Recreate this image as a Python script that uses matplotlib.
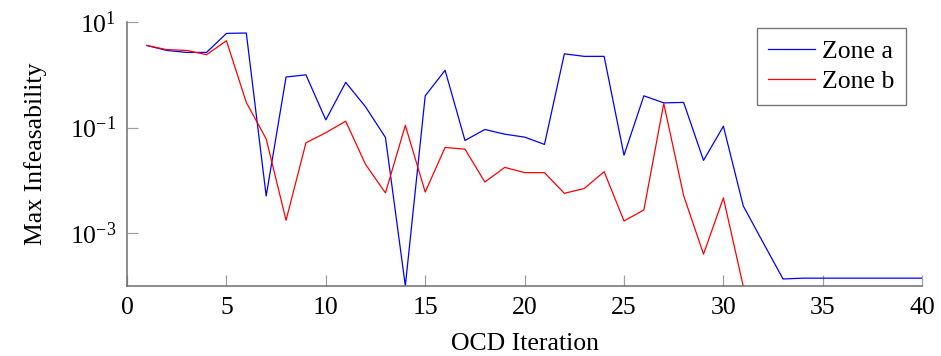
import numpy as np
import matplotlib
matplotlib.use("Agg")
import matplotlib.pyplot as plt
from matplotlib.ticker import FixedLocator, NullLocator

plt.rcParams['font.family'] = ['Liberation Serif', 'DejaVu Serif']
plt.rcParams['mathtext.fontset'] = 'custom'
plt.rcParams['mathtext.rm'] = 'Liberation Serif'
plt.rcParams['mathtext.it'] = 'Liberation Serif:italic'

iterations = list(range(1, 41))

zone_a = [3.6, 2.9, 2.66, 2.66, 6.1, 6.2, 0.00505, 0.91, 1.0, 0.14,
          0.72, 0.247, 0.065, 1.0e-4, 0.40, 1.22, 0.057, 0.092, 0.075, 0.066,
          0.048, 2.5, 2.24, 2.24, 0.030, 0.40, 0.294, 0.30, 0.0239, 0.106,
          0.00327, 6.6e-4, 1.35e-4, 1.4e-4, 1.4e-4, 1.4e-4, 1.4e-4, 1.4e-4, 1.4e-4, 1.4e-4]

zone_b = [3.6, 3.0, 2.9, 2.41, 4.43, 0.30, 0.061, 0.00175, 0.0515, 0.080,
          0.132, 0.020, 0.00578, 0.110, 0.0060, 0.042, 0.039, 0.0093, 0.0176, 0.014,
          0.014, 0.00568, 0.0070, 0.0146, 0.0017, 0.00275, 0.286, 0.00514, 4.0e-4, 0.00465,
          9.8e-5, np.nan, np.nan, np.nan, np.nan, np.nan, np.nan, np.nan, np.nan, np.nan]

x_ticks = [0, 5, 10, 15, 20, 25, 30, 35, 40]
y_ticks = [1e1, 1e-1, 1e-3]
y_tick_labels = [r'$10^{1}$', r'$10^{-1}$', r'$10^{-3}$']

fs = 18.5

fig = plt.figure(figsize=(9.41, 3.56), dpi=100)
ax = fig.add_axes([0.135, 0.197, 0.845, 0.741])

ax.plot(iterations, zone_a, color='#0000ff', lw=0.9, label='Zone a')
ax.plot(iterations, zone_b, color='#ff0000', lw=0.9, label='Zone b')

ax.set_yscale('log')
ax.set_xlim(0, 40)
ax.set_ylim(1e-4, 10)

ax.xaxis.set_major_locator(FixedLocator(x_ticks))
ax.yaxis.set_major_locator(FixedLocator(y_ticks))
ax.yaxis.set_minor_locator(NullLocator())
ax.set_yticklabels(y_tick_labels)

for s in ['top', 'right']:
    ax.spines[s].set_visible(False)
for s in ['left', 'bottom']:
    ax.spines[s].set_color('#6e6e6e')
    ax.spines[s].set_linewidth(1.1)

ax.tick_params(direction='in', length=8, width=0.9, color='#a0a0a0',
               labelsize=fs, pad=8)

ax.set_xlabel('OCD Iteration', fontsize=fs, labelpad=10)
ax.set_ylabel('Max Infeasability', fontsize=fs, labelpad=16)

leg = ax.legend(loc='upper right', bbox_to_anchor=(0.98, 0.977), fontsize=fs,
                frameon=True, fancybox=False, handlelength=1.8, handletextpad=0.3,
                borderpad=0.45, labelspacing=0.3, borderaxespad=0)
leg.get_frame().set_edgecolor('#555555')
leg.get_frame().set_linewidth(1.0)

fig.savefig('out.png', dpi=100)
